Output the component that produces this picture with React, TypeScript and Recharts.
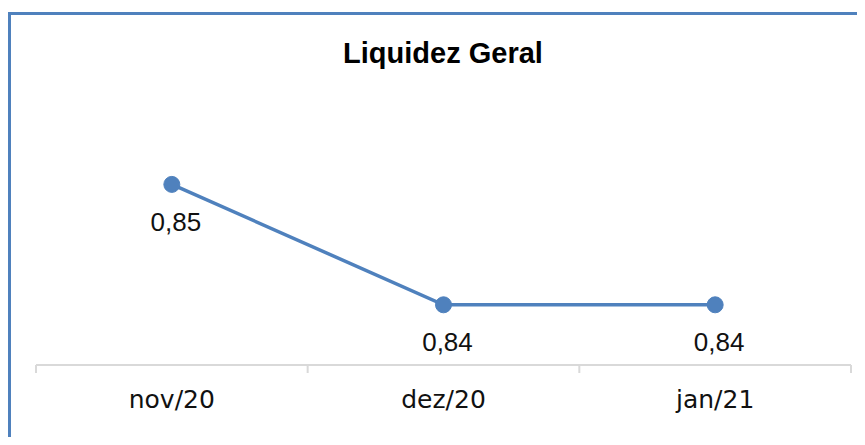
import { LabelList, Line, LineChart, XAxis, YAxis } from "recharts";

const months = ["nov/20", "dez/20", "jan/21"];
const liquidez = [0.85, 0.84, 0.84];
const title = "Liquidez Geral";

const BLUE = "#4F81BD";
const GRID = "#d9d9d9";
const PLOT_W = 815;
const HALF_BAND = PLOT_W / months.length / 2;

const data = months.map((month, i) => ({ month, value: liquidez[i] }));

function MonthTick(props: any) {
  const { x, y, payload, index, visibleTicksCount } = props;
  return (
    <g>
      <line x1={x - HALF_BAND} x2={x - HALF_BAND} y1={y - 8} y2={y} stroke={GRID} strokeWidth={2} />
      {index === visibleTicksCount - 1 && (
        <line x1={x + HALF_BAND} x2={x + HALF_BAND} y1={y - 8} y2={y} stroke={GRID} strokeWidth={2} />
      )}
      <text
        x={x}
        y={y + 35}
        textAnchor="middle"
        fill="#111"
        style={{ fontFamily: "DejaVu Sans", fontSize: 25 }}
      >
        {payload.value}
      </text>
    </g>
  );
}

export default function App() {
  return (
    <div style={{ position: "relative", width: 865, height: 445, margin: -8, overflow: "hidden", background: "#fff" }}>
      <div
        style={{
          position: "absolute",
          left: 7,
          top: 12,
          width: 900,
          height: 500,
          borderLeft: `4px solid ${BLUE}`,
          borderTop: `3px solid ${BLUE}`,
        }}
      />
      <svg width={865} height={445} style={{ position: "absolute", left: 0, top: 0 }}>
        <text
          x={443}
          y={63}
          textAnchor="middle"
          fill="#000"
          style={{ fontFamily: "Liberation Sans", fontWeight: 700, fontSize: 29 }}
        >
          {title}
        </text>
      </svg>
      <div style={{ position: "absolute", left: 0, top: 0 }}>
        <LineChart width={865} height={445} data={data} margin={{ top: 64, right: 14, bottom: 30, left: 36 }}>
          <XAxis
            dataKey="month"
            height={50}
            padding={{ left: HALF_BAND, right: HALF_BAND }}
            axisLine={{ stroke: GRID, strokeWidth: 2 }}
            tickLine={false}
            tickSize={8}
            tickMargin={0}
            tick={<MonthTick />}
            interval={0}
          />
          <YAxis hide domain={[0.835, 0.86]} />
          <Line
            dataKey="value"
            stroke={BLUE}
            strokeWidth={3.5}
            dot={{ r: 8, fill: BLUE, stroke: BLUE, strokeWidth: 1 }}
            activeDot={false}
            isAnimationActive={false}
          >
            <LabelList
              dataKey="value"
              position="bottom"
              offset={28}
              dx={4}
              fill="#111"
              style={{ fontFamily: "Liberation Sans", fontSize: 26 }}
              formatter={(v: any) => Number(v).toFixed(2).replace(".", ",")}
            />
          </Line>
        </LineChart>
      </div>
    </div>
  );
}
